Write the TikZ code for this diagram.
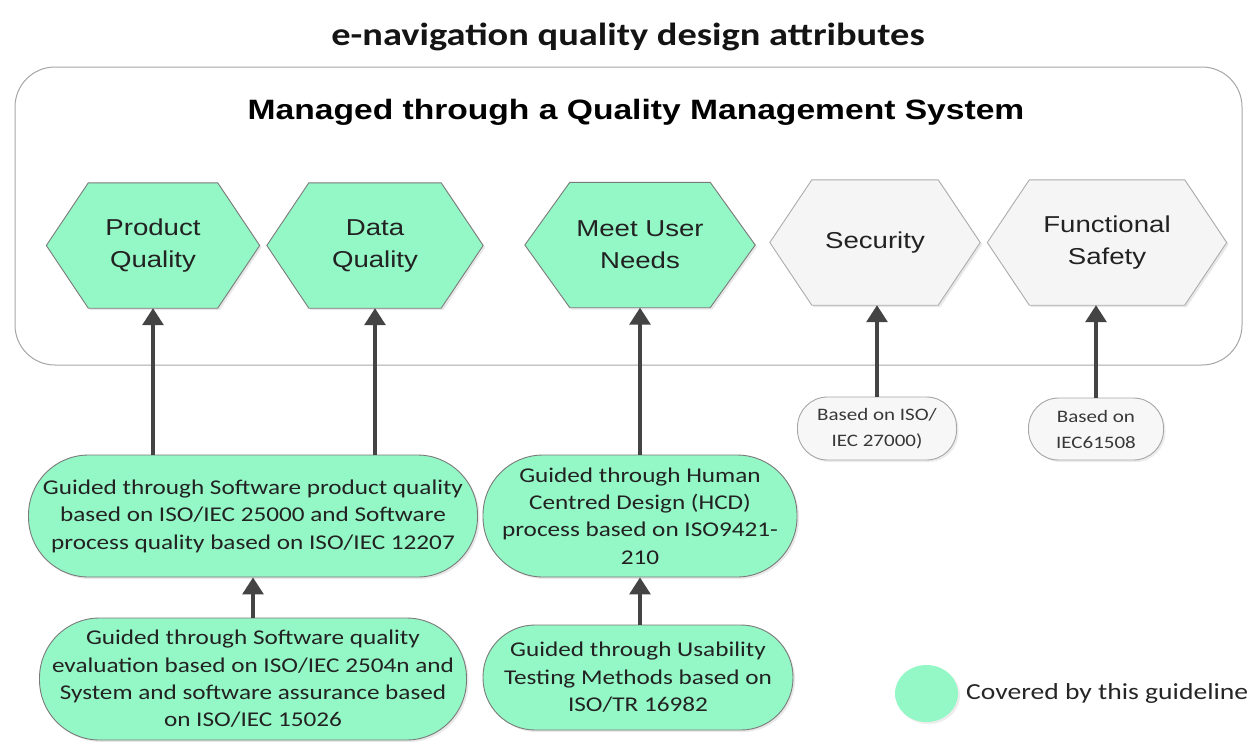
\documentclass[tikz,border=0pt]{standalone}
\usepackage{fontspec}
\setmainfont{Carlito}
\newfontfamily\calf[FakeStretch=1.2]{Carlito}
\newfontfamily\arlf[FakeStretch=1.2]{Liberation Sans}
\usetikzlibrary{arrows.meta,backgrounds,shadows,shapes.geometric}
\definecolor{mint}{HTML}{94F7C6}
\definecolor{edgegray}{HTML}{7A7A7A}
\definecolor{arrowgray}{HTML}{444444}
\definecolor{txtdark}{HTML}{222222}
\begin{document}
\begin{tikzpicture}[x=1pt,y=-1pt,
  hexlbl/.style={inner sep=0pt, minimum height=125pt, align=center,
    font=\arlf\fontsize{23}{32}\selectfont, text=txtdark},
  hexgreen/.style={fill=mint, draw=edgegray, line width=0.9pt,
    drop shadow={shadow xshift=2pt, shadow yshift=-2pt, opacity=0.18}},
  hexgray/.style={fill=gray!8, draw=gray!65, line width=0.9pt,
    drop shadow={shadow xshift=2pt, shadow yshift=-2pt, opacity=0.18}},
  pill/.style={fill=mint, draw=edgegray, line width=0.9pt, rounded corners=60pt,
    inner sep=0pt, align=center, font=\calf\fontsize{21}{27.4}\selectfont, text=txtdark,
    drop shadow={shadow xshift=2pt, shadow yshift=-2pt, opacity=0.18}},
  graypill/.style={fill=gray!6, draw=gray!70, line width=0.9pt, rounded corners=30pt,
    inner sep=0pt, align=center, font=\calf\fontsize{17.5}{26}\selectfont, text=black!78,
    drop shadow={shadow xshift=2pt, shadow yshift=-2pt, opacity=0.15}},
  uparrow/.style={draw=arrowgray, line width=3.2pt,
    -{Triangle[width=21pt,length=17pt]}}
]
\useasboundingbox (0,0) rectangle (1259,742);

% title
\node[font=\calf\bfseries\fontsize{32}{38}\selectfont, text=black!92] (title) at (628,37) {e-navigation quality design attributes};

% QMS frame
\node[draw=gray!70, line width=1pt, rounded corners=40pt, minimum width=1227pt,
  minimum height=298pt, inner sep=0pt] (qms) at (628.5,216) {};
\node[font=\arlf\bfseries\fontsize{28}{32}\selectfont] (qmst) at (636,112) {Managed through a Quality Management System};

% hexagon labels
\node[hexlbl, minimum width=129pt] (pq) at (153,245.5) {Product\\Quality};
\node[hexlbl, minimum width=132pt] (dq) at (375,245.5) {Data\\Quality};
\node[hexlbl, minimum width=140pt] (mu) at (640,245) {Meet User\\Needs};
\node[hexlbl, minimum width=126pt] (se) at (875,242.5) {Security};
\node[hexlbl, minimum width=155pt] (fs) at (1107,242.5) {Functional\\Safety};

\begin{pgfonlayer}{background}
\foreach \n/\d in {pq/42,dq/42,mu/45}
  \draw[hexgreen] (\n.north west) -- (\n.north east) -- ([xshift=\d pt]\n.east)
    -- (\n.south east) -- (\n.south west) -- ([xshift=-\d pt]\n.west) -- cycle;
\foreach \n/\d in {se/42,fs/42}
  \draw[hexgray] (\n.north west) -- (\n.north east) -- ([xshift=\d pt]\n.east)
    -- (\n.south east) -- (\n.south west) -- ([xshift=-\d pt]\n.west) -- cycle;
\end{pgfonlayer}

% guidance pills
\node[pill, minimum width=449pt, minimum height=122pt] (e1) at (253,516)
  {Guided through Software product quality\\based on ISO/IEC 25000 and Software\\process quality based on ISO/IEC 12207};
\node[pill, minimum width=427pt, minimum height=122pt] (e2) at (253,679)
  {Guided through Software quality\\evaluation based on ISO/IEC 2504n and\\System and software assurance based\\on ISO/IEC 15026};
\node[pill, minimum width=314pt, minimum height=122pt] (e3) at (640,516)
  {Guided through Human\\Centred Design (HCD)\\process based on ISO9421-\\210};
\node[pill, rounded corners=52pt, minimum width=310pt, minimum height=105pt] (e4) at (638,677.5)
  {Guided through Usability\\Testing Methods based on\\ISO/TR 16982};
\node[graypill, minimum width=159pt, minimum height=63pt] (s1) at (877,428.5)
  {Based on ISO/\\IEC 27000)};
\node[graypill, minimum width=135pt, minimum height=62pt] (s2) at (1096,429)
  {Based on\\IEC61508};

% arrows
\draw[uparrow] (pq.south |- e1.north) -- (pq.south);
\draw[uparrow] (dq.south |- e1.north) -- (dq.south);
\draw[uparrow] (e3.north) -- (mu.south);
\draw[uparrow] (e2.north) -- (e1.south);
\draw[uparrow] (e3.south |- e4.north) -- (e3.south);
\draw[uparrow] (s1.north) -- (s1.north |- se.south);
\draw[uparrow] (s2.north) -- (s2.north |- fs.south);

% legend
\node[ellipse, fill=mint, minimum width=63pt, minimum height=57pt, inner sep=0pt,
  drop shadow={shadow xshift=2pt, shadow yshift=-2pt, opacity=0.15}] (leg) at (926.5,693.5) {};
\node[anchor=west, inner sep=0pt, font=\calf\fontsize{23}{28}\selectfont, text=black!85] (legt) at (966,693) {Covered by this guideline};
\end{tikzpicture}
\end{document}
